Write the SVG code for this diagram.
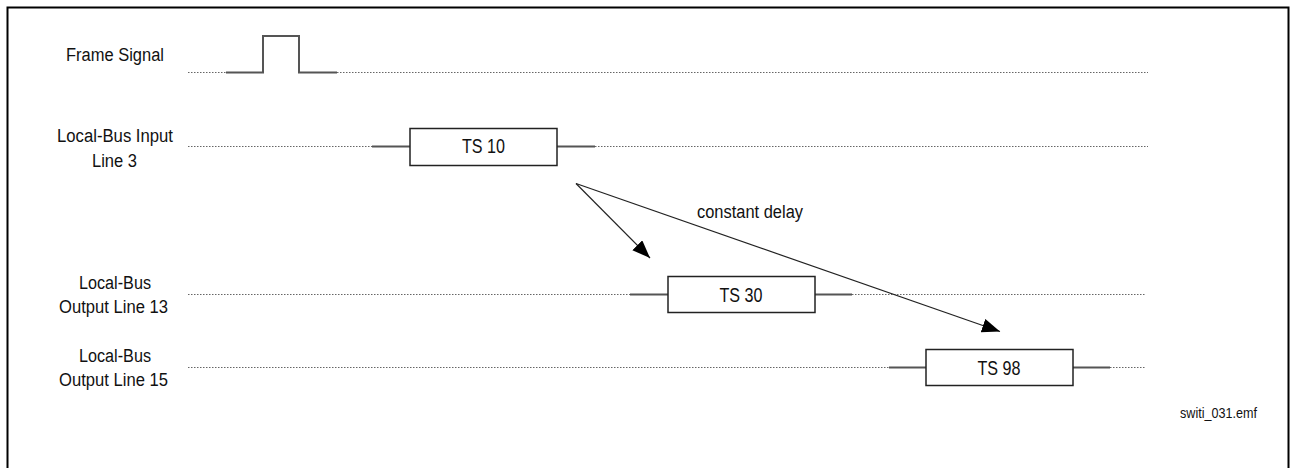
<svg xmlns="http://www.w3.org/2000/svg" width="1298" height="468" viewBox="0 0 1298 468">
<style>
.lbl{font-family:"Liberation Sans",Arial,sans-serif;font-size:18px;fill:#111;text-anchor:middle}
.ts{font-family:"Liberation Sans",Arial,sans-serif;font-size:20px;fill:#111;text-anchor:middle}
.dot{stroke:#666;stroke-width:1;stroke-dasharray:1.5,1.5;fill:none}
.sol{stroke:#555;stroke-width:2;fill:none}
.box{fill:#fff;stroke:#222;stroke-width:1.5}
.arr{stroke:#222;stroke-width:1.2;fill:none;marker-end:url(#ah)}
</style>
<defs>
<marker id="ah" markerUnits="userSpaceOnUse" markerWidth="20" markerHeight="16" refX="18" refY="7" orient="auto">
<path d="M0,0 L18,7 L0,14 Z" fill="#000"/>
</marker>
</defs>
<rect x="7.5" y="7.5" width="1281" height="462" fill="#fff" stroke="#000" stroke-width="2"/>
<g id="frame-signal">
<text class="lbl" x="115" y="61" textLength="98" lengthAdjust="spacingAndGlyphs">Frame Signal</text>
<line class="dot" x1="188" y1="72.5" x2="226" y2="72.5"/>
<polyline class="sol" points="226,72.5 263,72.5 263,36 299,36 299,72.5 337,72.5"/>
<line class="dot" x1="337" y1="72.5" x2="1148" y2="72.5"/>
</g>
<g id="input-line-3">
<text class="lbl" x="115" y="142" textLength="116" lengthAdjust="spacingAndGlyphs">Local-Bus Input</text>
<text class="lbl" x="114.5" y="167" textLength="45" lengthAdjust="spacingAndGlyphs">Line 3</text>
<line class="dot" x1="188" y1="146.5" x2="372" y2="146.5"/>
<line class="sol" x1="372" y1="146.5" x2="410" y2="146.5"/>
<line class="sol" x1="557" y1="146.5" x2="595" y2="146.5"/>
<line class="dot" x1="595" y1="146.5" x2="1148" y2="146.5"/>
</g>
<g id="ts10">
<rect class="box" x="410" y="128.5" width="147" height="37"/>
<text class="ts" x="483.5" y="153" textLength="43" lengthAdjust="spacingAndGlyphs">TS 10</text>
</g>
<g id="output-line-13">
<text class="lbl" x="115" y="289" textLength="72" lengthAdjust="spacingAndGlyphs">Local-Bus</text>
<text class="lbl" x="113.5" y="313" textLength="109" lengthAdjust="spacingAndGlyphs">Output Line 13</text>
<line class="dot" x1="188" y1="294.5" x2="630" y2="294.5"/>
<line class="sol" x1="630" y1="294.5" x2="668" y2="294.5"/>
<line class="sol" x1="815" y1="294.5" x2="852" y2="294.5"/>
<line class="dot" x1="852" y1="294.5" x2="1146" y2="294.5"/>
</g>
<g id="ts30">
<rect class="box" x="668" y="276.5" width="147" height="36"/>
<text class="ts" x="741" y="302" textLength="43" lengthAdjust="spacingAndGlyphs">TS 30</text>
</g>
<g id="output-line-15">
<text class="lbl" x="115" y="362" textLength="72" lengthAdjust="spacingAndGlyphs">Local-Bus</text>
<text class="lbl" x="113.5" y="386" textLength="109" lengthAdjust="spacingAndGlyphs">Output Line 15</text>
<line class="dot" x1="188" y1="367.5" x2="889" y2="367.5"/>
<line class="sol" x1="889" y1="367.5" x2="926" y2="367.5"/>
<line class="sol" x1="1073" y1="367.5" x2="1110" y2="367.5"/>
<line class="dot" x1="1110" y1="367.5" x2="1146" y2="367.5"/>
</g>
<g id="ts98">
<rect class="box" x="926" y="349.5" width="147" height="36"/>
<text class="ts" x="999" y="375" textLength="43" lengthAdjust="spacingAndGlyphs">TS 98</text>
</g>
<g id="connectors">
<line class="arr" x1="576" y1="183.5" x2="650" y2="258"/>
<line class="arr" x1="576" y1="183.5" x2="1000" y2="331.5"/>
<text class="lbl" x="750" y="218" font-size="17" textLength="106" lengthAdjust="spacingAndGlyphs">constant delay</text>
</g>
<text x="1218.5" y="418" font-family="'Liberation Sans',Arial,sans-serif" font-size="14" fill="#111" text-anchor="middle" textLength="77" lengthAdjust="spacingAndGlyphs">switi_031.emf</text>
</svg>
